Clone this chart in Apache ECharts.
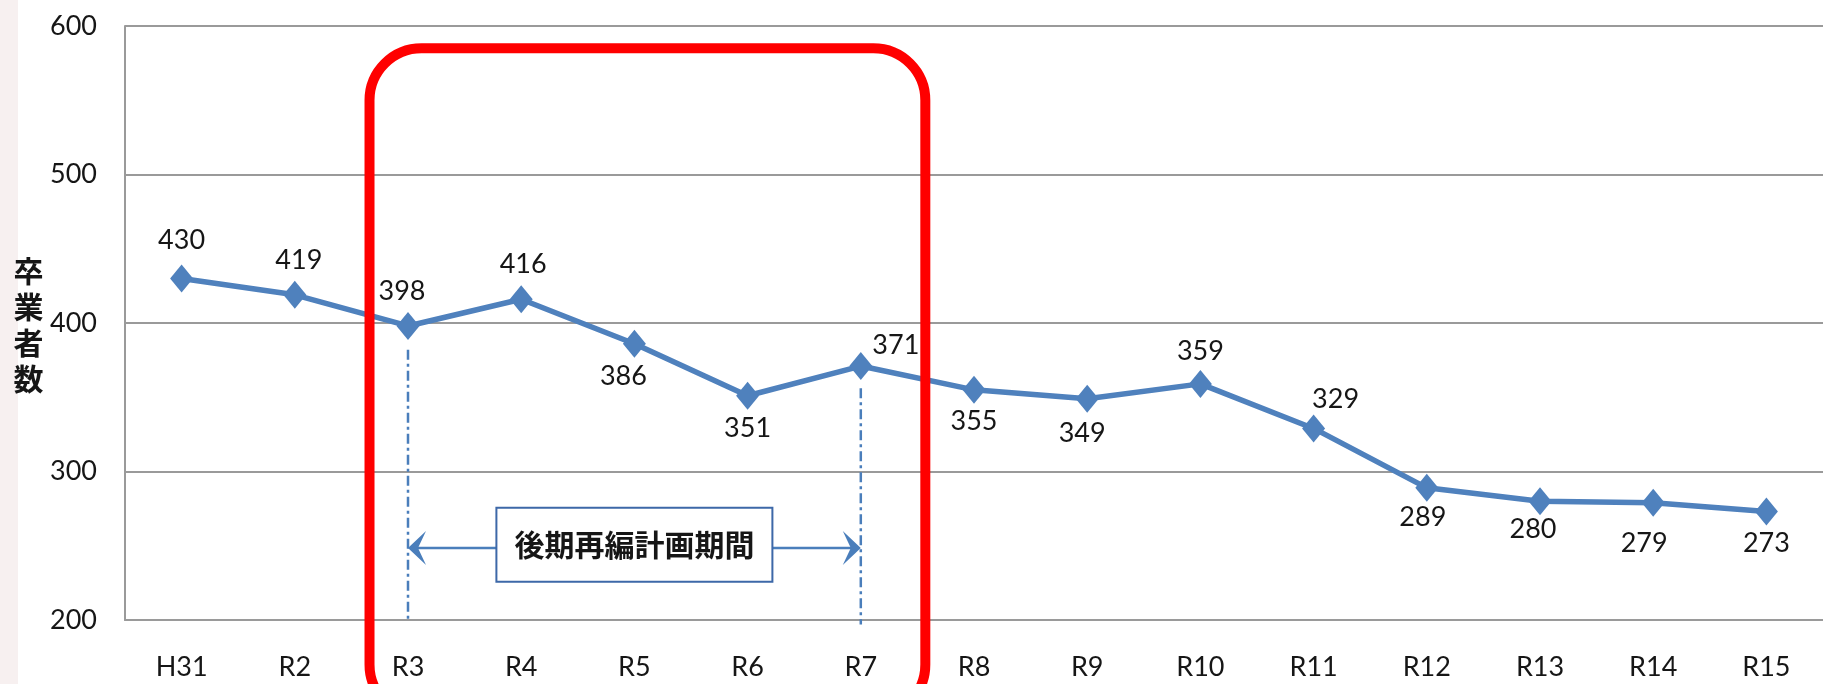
<!DOCTYPE html>
<html><head><meta charset="utf-8">
<script src="https://cdn.jsdelivr.net/npm/echarts@6/dist/echarts.min.js"></script>
<style>html,body{margin:0;padding:0;background:#fff}#c{width:1823px;height:684px}</style>
</head><body><div id="c"></div>
<script>
const categories = ['H31','R2','R3','R4','R5','R6','R7','R8','R9','R10','R11','R12','R13','R14','R15'];
const graduates = [430,419,398,416,386,351,371,355,349,359,329,289,280,279,273];
const yMin = 200, yMax = 600, yStep = 100;
const yAxisTitle = '卒業者数';
const periodLabel = '後期再編計画期間';
const periodStart = 'R3', periodEnd = 'R7';
// label placement (style only): [dx, dy] from each marker
const labelOffsets = [[0,-38],[4,-34],[-6,-35],[2,-35],[-11,33],[0,33],[35,-21],[0,31],[-5,35],[0,-33],[22,-29],[-4,29],[-7,28],[-9,41],[0,32]];

const FONT = 'Lato, "Liberation Sans", sans-serif';
const chart = echarts.init(document.getElementById('c'));
const option = {
  backgroundColor: '#fff',
  animation: false,
  grid: {left: 125, top: 26, width: 1717.5, height: 594},
  xAxis: {
    type: 'category', data: categories, boundaryGap: true,
    axisLine: {show: true, lineStyle: {color: '#9a9a9a', width: 2}},
    axisTick: {show: false},
    axisLabel: {fontSize: 27, color: '#161616', margin: 34, fontFamily: FONT, interval: 0}
  },
  yAxis: {
    type: 'value', min: yMin, max: yMax, interval: yStep,
    axisLine: {show: true, lineStyle: {color: '#9a9a9a', width: 2}},
    axisTick: {show: false},
    splitLine: {show: true, lineStyle: {color: '#9a9a9a', width: 2}},
    axisLabel: {fontSize: 27, color: '#161616', margin: 28, fontFamily: FONT}
  },
  series: [{
    type: 'line', z: 3,
    data: graduates.map((v, i) => ({
      value: v,
      label: {show: true, position: 'inside', offset: labelOffsets[i]}
    })),
    lineStyle: {color: '#4f81bd', width: 5.5},
    itemStyle: {color: '#4f81bd'},
    symbol: 'diamond', symbolSize: [23, 28],
    label: {fontSize: 27, color: '#161616', fontFamily: FONT}
  }]
};
chart.setOption(option);

function px(i, v) { return chart.convertToPixel({gridIndex: 0}, [i, v]); }
const iS = categories.indexOf(periodStart), iE = categories.indexOf(periodEnd);
const xS = px(iS, yMin)[0], xE = px(iE, yMin)[0];
const bw = px(iS + 1, yMin)[0] - xS;
const Y = v => px(0, v)[1];
const blue = '#4a7ebb';
const arrowY = Y(248.5);
const boxW = 276, boxH = 74, boxCx = (xS + xE) / 2, boxCy = Y(250.7);
const boxLeft = xS - 0.34 * bw, boxRight = xE + 0.57 * bw;
const boxTop = Y(585), boxBottom = Y(135);

chart.setOption({
  graphic: [
    {type: 'rect', z: 0, silent: true, shape: {x: 0, y: 0, width: 18, height: 684}, style: {fill: '#f7f0f0'}},
    {type: 'text', z: 5, style: {x: 28.5, y: 325, text: yAxisTitle.split('').join('\n'), fill: '#161616',
      font: 'bold 30px "Noto Sans CJK JP", sans-serif', lineHeight: 36, align: 'center', verticalAlign: 'middle'}},
    {type: 'line', z: 4, shape: {x1: xS, y1: Y(382), x2: xS, y2: Y(200)},
      style: {stroke: blue, lineWidth: 2.5, lineDash: [10, 4, 3, 4]}},
    {type: 'line', z: 4, shape: {x1: xE, y1: Y(356), x2: xE, y2: Y(197)},
      style: {stroke: blue, lineWidth: 2.5, lineDash: [10, 4, 3, 4]}},
    {type: 'line', z: 4, shape: {x1: xS + 4, y1: arrowY, x2: xE - 4, y2: arrowY},
      style: {stroke: blue, lineWidth: 2.5}},
    {type: 'polygon', z: 4, shape: {points: [[xS, arrowY], [xS + 18, arrowY - 17], [xS + 10, arrowY], [xS + 18, arrowY + 17]]},
      style: {fill: blue}},
    {type: 'polygon', z: 4, shape: {points: [[xE, arrowY], [xE - 18, arrowY - 17], [xE - 10, arrowY], [xE - 18, arrowY + 17]]},
      style: {fill: blue}},
    {type: 'rect', z: 6, shape: {x: boxCx - boxW / 2, y: boxCy - boxH / 2, width: boxW, height: boxH},
      style: {fill: '#fff', stroke: '#3d68a8', lineWidth: 2}},
    {type: 'text', z: 7, style: {x: boxCx, y: boxCy, text: periodLabel, fill: '#161616',
      font: 'bold 30px "Noto Sans CJK JP", sans-serif', align: 'center', verticalAlign: 'middle'}},
    {type: 'rect', z: 10, silent: true, shape: {x: boxLeft, y: boxTop, width: boxRight - boxLeft, height: boxBottom - boxTop, r: 52},
      style: {fill: 'none', stroke: '#ff0000', lineWidth: 10}}
  ]
});
</script></body></html>
